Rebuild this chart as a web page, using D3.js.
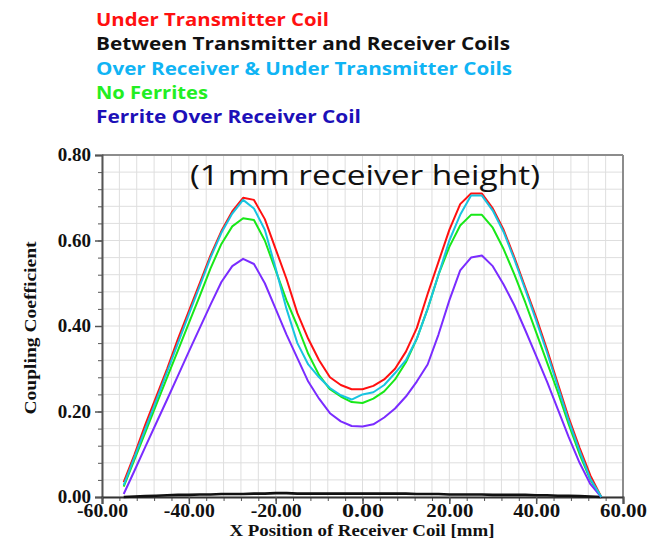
<!DOCTYPE html>
<html><head><meta charset="utf-8">
<script src="https://cdn.jsdelivr.net/npm/d3@7"></script>
<style>html,body{margin:0;padding:0;background:#fff;}svg{display:block;}</style>
</head><body>
<svg id="chart" width="649" height="539"></svg>
<script>
// ---- data ----
const xPositions = [-55,-52.5,-50,-47.5,-45,-42.5,-40,-37.5,-35,-32.5,-30,-27.5,-25,-22.5,-20,-17.5,-15,-12.5,-10,-7.5,-5,-2.5,0,2.5,5,7.5,10,12.5,15,17.5,20,22.5,25,27.5,30,32.5,35,37.5,40,42.5,45,47.5,50,52.5,55];
const underTransmitter = [0.035,0.10,0.17,0.235,0.30,0.37,0.435,0.50,0.565,0.622,0.668,0.70,0.695,0.65,0.58,0.51,0.43,0.37,0.32,0.28,0.262,0.252,0.252,0.26,0.275,0.30,0.34,0.395,0.475,0.55,0.625,0.685,0.71,0.71,0.675,0.625,0.56,0.49,0.42,0.345,0.265,0.185,0.115,0.05,0.0];
const betweenCoils = [0.0,0.001,0.002,0.003,0.004,0.005,0.005,0.006,0.006,0.007,0.007,0.007,0.008,0.008,0.009,0.009,0.008,0.008,0.008,0.008,0.008,0.008,0.008,0.008,0.008,0.008,0.008,0.007,0.007,0.007,0.006,0.006,0.006,0.006,0.005,0.005,0.005,0.005,0.004,0.004,0.003,0.003,0.002,0.001,0.0];
const overReceiverUnderTransmitter = [0.028,0.094,0.16,0.226,0.293,0.36,0.427,0.493,0.56,0.618,0.663,0.695,0.675,0.625,0.535,0.44,0.36,0.31,0.28,0.255,0.238,0.228,0.24,0.245,0.262,0.29,0.32,0.37,0.44,0.52,0.60,0.66,0.705,0.705,0.67,0.62,0.555,0.485,0.413,0.338,0.258,0.178,0.108,0.042,0.0];
const noFerrites = [0.024,0.088,0.152,0.216,0.28,0.343,0.407,0.47,0.535,0.592,0.633,0.652,0.648,0.60,0.53,0.46,0.40,0.335,0.285,0.252,0.235,0.222,0.22,0.23,0.247,0.275,0.315,0.37,0.44,0.52,0.585,0.635,0.66,0.66,0.63,0.58,0.52,0.455,0.385,0.315,0.245,0.17,0.10,0.04,0.0];
const ferriteOverReceiver = [0.007,0.062,0.118,0.173,0.228,0.284,0.34,0.395,0.45,0.503,0.54,0.557,0.545,0.50,0.44,0.38,0.325,0.27,0.23,0.196,0.177,0.166,0.165,0.17,0.186,0.207,0.235,0.27,0.31,0.38,0.46,0.53,0.56,0.565,0.54,0.497,0.448,0.39,0.33,0.27,0.205,0.14,0.08,0.03,0.0];

const seriesNames = ["Under Transmitter Coil","Between Transmitter and Receiver Coils","Over Receiver & Under Transmitter Coils","No Ferrites","Ferrite Over Receiver Coil"];
const xTickLabels = [-60,-40,-20,0,20,40,60];
const yTickLabels = [0,0.2,0.4,0.6,0.8];

// ---- layout ----
const svg = d3.select("#chart");
const L = 102, R = 623, T = 155, B = 497;
const x = d3.scaleLinear().domain([-60,60]).range([L,R]);
const y = d3.scaleLinear().domain([0,0.8]).range([B,T]);

// grid
const gx = d3.range(-60,60.001,4), gy = d3.range(0,0.8001,0.04);
svg.append("g").selectAll("line").data(gx).join("line")
  .attr("x1",d=>x(d)).attr("x2",d=>x(d)).attr("y1",T).attr("y2",B)
  .attr("stroke","#dedede").attr("stroke-width",1);
svg.append("g").selectAll("line").data(gy).join("line")
  .attr("y1",d=>y(d)).attr("y2",d=>y(d)).attr("x1",L).attr("x2",R)
  .attr("stroke","#dedede").attr("stroke-width",1);

// frame top/right
svg.append("line").attr("x1",L).attr("x2",R).attr("y1",T).attr("y2",T).attr("stroke","#8c8c8c").attr("stroke-width",2);
svg.append("line").attr("x1",R).attr("x2",R).attr("y1",T).attr("y2",B).attr("stroke","#8c8c8c").attr("stroke-width",2);

// minor ticks
svg.append("g").attr("transform",`translate(${L},0)`)
  .call(d3.axisLeft(y).tickValues(gy).tickSize(4).tickFormat(""))
  .call(g=>g.select(".domain").remove())
  .call(g=>g.selectAll("line").attr("stroke","#555"));
svg.append("g").attr("transform",`translate(0,${B})`)
  .call(d3.axisBottom(x).tickValues(gx).tickSize(4).tickFormat(""))
  .call(g=>g.select(".domain").remove())
  .call(g=>g.selectAll("line").attr("stroke","#555"));

// major axes
const fmt = d => d.toFixed(2);
const yAxis = svg.append("g").attr("transform",`translate(${L},0)`)
  .call(d3.axisLeft(y).tickValues(yTickLabels).tickSize(7).tickPadding(4).tickFormat(fmt));
yAxis.select(".domain").attr("stroke","#555").attr("stroke-width",2);
yAxis.selectAll("line").attr("stroke","#555").attr("stroke-width",1.5);
yAxis.selectAll("text").attr("font-family","'Liberation Serif','Times New Roman',serif")
  .attr("font-weight","bold").attr("font-size","19px").attr("fill","#111")
  .attr("dy","0.3em");

const xAxis = svg.append("g").attr("transform",`translate(0,${B})`)
  .call(d3.axisBottom(x).tickValues(xTickLabels).tickSize(7).tickFormat(fmt));
xAxis.select(".domain").attr("stroke","#333").attr("stroke-width",2);
xAxis.selectAll("line").attr("stroke","#555").attr("stroke-width",1.5);
xAxis.selectAll("text").attr("font-family","'Liberation Serif','Times New Roman',serif")
  .attr("font-weight","bold").attr("font-size","19px").attr("fill","#111")
  .attr("textLength",51).attr("lengthAdjust","spacingAndGlyphs")
  .attr("dy",null).attr("y",20);
xAxis.selectAll("text").filter(d=>d>=0 && d<10).attr("textLength",42);
xAxis.selectAll("text").filter(d=>d>=10).attr("textLength",47);

// lines
const lineColors = ["#ff1010","#111111","#18c4e0","#18e818","#7a2cff"];
const data = [underTransmitter, betweenCoils, overReceiverUnderTransmitter, noFerrites, ferriteOverReceiver];
const line = d3.line().x((d,i)=>x(xPositions[i])).y(d=>y(d));
const order = [1,0,3,4,2];
order.forEach(k=>{
  svg.append("path").datum(data[k]).attr("d",line)
    .attr("fill","none").attr("stroke",lineColors[k])
    .attr("stroke-width",k===1?2.6:2).attr("stroke-linejoin","round");
});

// title
svg.append("text").attr("x",190).attr("y",185)
  .attr("font-family","'Open Sans',sans-serif").attr("font-size","28px").attr("fill","#111")
  .attr("textLength",350).attr("lengthAdjust","spacingAndGlyphs")
  .text("(1 mm receiver height)");

// axis labels
svg.append("text").attr("x",362).attr("y",535.5).attr("text-anchor","middle")
  .attr("font-family","'Liberation Serif','Times New Roman',serif").attr("font-weight","bold")
  .attr("font-size","16px").attr("fill","#111")
  .attr("textLength",265).attr("lengthAdjust","spacingAndGlyphs")
  .text("X Position of Receiver Coil [mm]");
svg.append("text").attr("transform","translate(36,328) rotate(-90)").attr("text-anchor","middle")
  .attr("font-family","'Liberation Serif','Times New Roman',serif").attr("font-weight","bold")
  .attr("font-size","17px").attr("fill","#111")
  .attr("textLength",173).attr("lengthAdjust","spacingAndGlyphs")
  .text("Coupling Coefficient");

// legend
const legendColors = ["#ff1010","#111111","#10b4f4","#22ee22","#1c10b8"];
const legendBaselines = [26,50,74.5,99,123];
const legendWidths = [233,414,416,112,265];
seriesNames.forEach((n,i)=>{
  svg.append("text").attr("x",96).attr("y",legendBaselines[i])
    .attr("font-family","'Open Sans',sans-serif").attr("font-weight","bold")
    .attr("font-size","18px").attr("fill",legendColors[i])
    .attr("textLength",legendWidths[i]).attr("lengthAdjust","spacingAndGlyphs")
    .text(n);
});
</script>
</body></html>
